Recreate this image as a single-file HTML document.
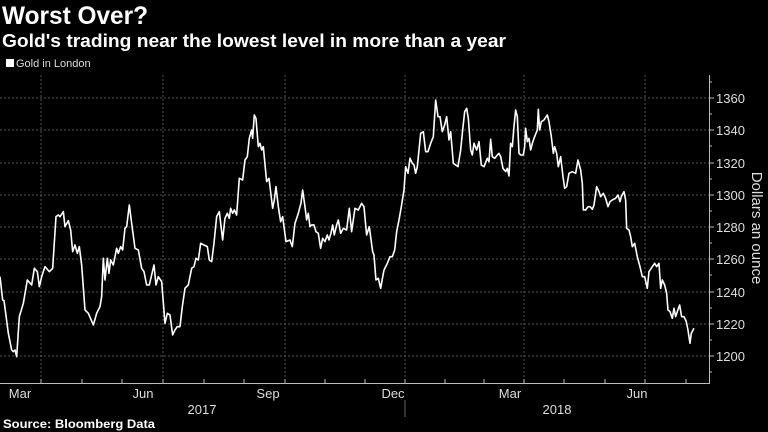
<!DOCTYPE html>
<html><head><style>
body{margin:0;width:768px;height:432px;background:#000;overflow:hidden;font-family:"Liberation Sans",sans-serif;color:#fff}
.t{position:absolute;white-space:nowrap}
</style></head><body>
<div class="t" style="left:6px;top:58px;font-size:11px;color:#ddd"><span style="display:inline-block;width:8px;height:8px;background:#fff;margin-right:2px"></span>Gold in London</div>
<svg width="768" height="432" style="position:absolute;left:0;top:0">
<text x="2" y="24" fill="#fff" font-size="25" font-weight="bold" font-family="Liberation Sans, sans-serif" textLength="146" lengthAdjust="spacingAndGlyphs">Worst Over?</text>
<text x="2" y="47" fill="#fff" font-size="18" font-weight="bold" font-family="Liberation Sans, sans-serif" textLength="504" lengthAdjust="spacingAndGlyphs">Gold's trading near the lowest level in more than a year</text>
<g stroke="#555" stroke-dasharray="2,2" stroke-width="1">
<line x1="0" x2="709" y1="98" y2="98"/><line x1="0" x2="709" y1="130" y2="130"/><line x1="0" x2="709" y1="163" y2="163"/><line x1="0" x2="709" y1="195" y2="195"/><line x1="0" x2="709" y1="227" y2="227"/><line x1="0" x2="709" y1="259" y2="259"/><line x1="0" x2="709" y1="292" y2="292"/><line x1="0" x2="709" y1="324" y2="324"/><line x1="0" x2="709" y1="356" y2="356"/>
<line x1="41" x2="41" y1="75" y2="383"/><line x1="163" x2="163" y1="75" y2="383"/><line x1="285" x2="285" y1="75" y2="383"/><line x1="405" x2="405" y1="75" y2="383"/><line x1="524" x2="524" y1="75" y2="383"/><line x1="645" x2="645" y1="75" y2="383"/>
</g>
<g stroke="#bbb" stroke-width="1">
<line x1="0" x2="710" y1="383.5" y2="383.5"/>
<line x1="709.5" x2="709.5" y1="75" y2="383"/>
<line x1="41" x2="41" y1="383" y2="379"/><line x1="82" x2="82" y1="383" y2="379"/><line x1="122" x2="122" y1="383" y2="379"/><line x1="163" x2="163" y1="383" y2="379"/><line x1="204" x2="204" y1="383" y2="379"/><line x1="244" x2="244" y1="383" y2="379"/><line x1="285" x2="285" y1="383" y2="379"/><line x1="325" x2="325" y1="383" y2="379"/><line x1="365" x2="365" y1="383" y2="379"/><line x1="405" x2="405" y1="383" y2="379"/><line x1="445" x2="445" y1="383" y2="379"/><line x1="484" x2="484" y1="383" y2="379"/><line x1="524" x2="524" y1="383" y2="379"/><line x1="564" x2="564" y1="383" y2="379"/><line x1="605" x2="605" y1="383" y2="379"/><line x1="645" x2="645" y1="383" y2="379"/><line x1="686" x2="686" y1="383" y2="379"/>
<line x1="709" x2="714" y1="98" y2="98"/><line x1="709" x2="714" y1="130" y2="130"/><line x1="709" x2="714" y1="163" y2="163"/><line x1="709" x2="714" y1="195" y2="195"/><line x1="709" x2="714" y1="227" y2="227"/><line x1="709" x2="714" y1="259" y2="259"/><line x1="709" x2="714" y1="292" y2="292"/><line x1="709" x2="714" y1="324" y2="324"/><line x1="709" x2="714" y1="356" y2="356"/>
<line x1="709" x2="712" y1="82" y2="82"/><line x1="709" x2="712" y1="114" y2="114"/><line x1="709" x2="712" y1="146" y2="146"/><line x1="709" x2="712" y1="179" y2="179"/><line x1="709" x2="712" y1="211" y2="211"/><line x1="709" x2="712" y1="243" y2="243"/><line x1="709" x2="712" y1="275" y2="275"/><line x1="709" x2="712" y1="308" y2="308"/><line x1="709" x2="712" y1="340" y2="340"/><line x1="709" x2="712" y1="372" y2="372"/>
<line x1="405" x2="405" y1="400" y2="417" stroke="#666"/>
</g>
<g fill="none" stroke="#fff" stroke-width="1.6" stroke-linejoin="round">
<polyline vector-effect="non-scaling-stroke" transform="translate(0,50) scale(0.3333)" points="0,680 8,750 12,752 25,850 35,900 40,905 45,900 50,920 58,800 70,760 82,690 95,705 103,655 112,665 118,710 125,680 135,650 148,665 158,655 168,500 175,495 180,500 190,485 195,530 205,512 212,540 218,605 225,585 232,610 238,590 245,645 255,780 265,790 280,825 290,790 300,770 305,740 310,625 315,690 322,625 327,670 332,630 340,645 350,595 355,610 362,590 368,600 375,535 380,530 388,465 395,520 405,595 415,600 425,655 432,665 440,705 448,705 455,675 462,645 468,705 475,680 485,695 495,820 502,790 510,795 518,855 525,840 532,830 540,830 547,770 555,715 565,705 575,655 582,650 588,625 595,630 602,580 612,585 622,590 628,630 635,635 642,580 650,500 658,485 668,570 675,505 682,490 688,505 692,475 698,490 703,480 710,495 718,385 728,390 735,330 742,320 748,265 755,240 758,265 763,195 768,205 775,290 780,280 785,300 790,290 800,395 807,385 818,475 823,450 828,410 835,470 842,515 848,500 858,575 870,570 877,590 885,520 895,490 903,460 908,420 915,470 920,510 925,490 930,530 935,525 942,525 948,545 955,550 962,595 968,565 975,575 982,555 987,570 993,550 998,525 1003,555 1010,525 1015,510 1022,550 1030,535 1040,540 1048,475 1055,545 1065,475 1075,480 1085,460 1092,470 1100,555 1108,530 1118,605 1122,615 1128,690 1135,685 1142,715 1152,660"/>
<polyline vector-effect="non-scaling-stroke" transform="translate(384,50) scale(0.3333)" points="0,660 10,640 18,620 25,620 32,600 38,545 45,510 52,470 60,420 65,350 72,370 78,325 85,340 90,345 95,370 100,350 110,250 118,245 125,305 132,305 140,280 148,260 155,150 162,200 168,200 175,245 182,225 188,200 195,270 200,245 208,340 215,345 222,350 230,300 235,250 242,185 248,175 253,205 260,300 265,315 270,280 278,300 285,275 292,345 300,350 310,325 315,335 320,268 325,320 332,325 340,315 345,310 350,320 357,355 365,365 370,355 375,378 380,280 385,290 390,230 395,180 400,200 405,310 410,315 418,315 422,290 425,235 430,275 435,265 440,300 445,280 450,265 460,240 463,178 467,240 472,215 480,210 490,195 495,215 502,260 508,310 512,290 518,310 523,350 530,320 537,380 542,415 548,410 555,370 565,365 575,370 582,330 590,360 595,400 598,480 605,480 612,470 618,470 625,478 630,465 638,410 645,425 650,440 658,430 665,445 672,470 678,455 685,450 695,445 702,435 708,455 712,440 720,425 725,450 728,535 735,540 740,560 745,590 752,580 760,620 768,650 775,680 782,680 790,715 795,665 805,650 812,640 818,650 825,640 830,715 835,690 842,705 848,730 852,780 858,785 865,805 870,775 875,800 880,785 887,765 893,800 900,800 907,815 912,840 918,880 922,850 930,835"/>
</g>
<g fill="#ddd" font-size="13" font-family="Liberation Sans, sans-serif">
<text x="716" y="103">1360</text><text x="716" y="135">1340</text><text x="716" y="168">1320</text><text x="716" y="200">1300</text><text x="716" y="232">1280</text><text x="716" y="264">1260</text><text x="716" y="297">1240</text><text x="716" y="329">1220</text><text x="716" y="361">1200</text>
<text transform="translate(752,228) rotate(90)" text-anchor="middle" font-size="15">Dollars an ounce</text>
<text x="20" y="398" text-anchor="middle">Mar</text><text x="143" y="398" text-anchor="middle">Jun</text><text x="268" y="398" text-anchor="middle">Sep</text><text x="393" y="398" text-anchor="middle">Dec</text><text x="510" y="398" text-anchor="middle">Mar</text><text x="637" y="398" text-anchor="middle">Jun</text>
<text x="202" y="414" text-anchor="middle">2017</text><text x="557" y="414" text-anchor="middle">2018</text>
</g>
<text x="3" y="428" fill="#fff" font-size="12" font-weight="bold" font-family="Liberation Sans, sans-serif" textLength="152" lengthAdjust="spacingAndGlyphs">Source: Bloomberg Data</text>
</svg>
</body></html>
